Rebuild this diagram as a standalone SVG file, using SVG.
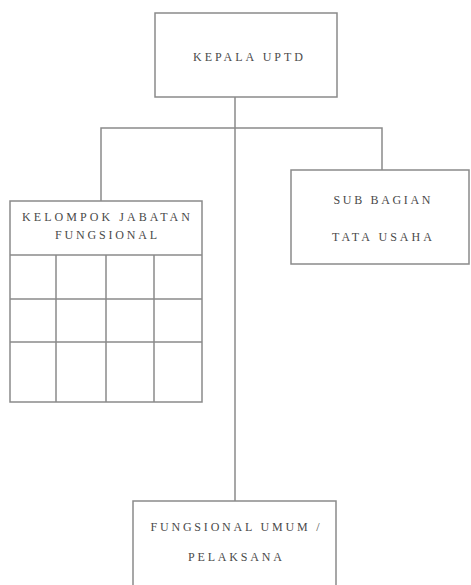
<svg xmlns="http://www.w3.org/2000/svg" width="471" height="585" viewBox="0 0 471 585">
<style>
.box{fill:#fff;stroke:#8a8a8a;stroke-width:1.5}
.ln{fill:none;stroke:#8a8a8a;stroke-width:1.5}
.t{font-family:"Liberation Serif",serif;font-size:12px;fill:#4a4a4a;text-anchor:middle}
</style>
<rect width="471" height="585" fill="#fff"/>
<g id="connectors">
<line class="ln" x1="235" y1="97" x2="235" y2="501"/>
<polyline class="ln" points="101,201 101,128 382,128 382,170"/>
</g>
<g id="kepala">
<rect class="box" x="155" y="13" width="182" height="84"/>
<text class="t" x="248" y="61" textLength="110" lengthAdjust="spacing">KEPALA UPTD</text>
</g>
<g id="kelompok">
<rect class="box" x="10" y="201" width="192" height="201"/>
<line class="ln" x1="10" y1="255" x2="202" y2="255"/>
<line class="ln" x1="10" y1="299" x2="202" y2="299"/>
<line class="ln" x1="10" y1="342" x2="202" y2="342"/>
<line class="ln" x1="56" y1="255" x2="56" y2="402"/>
<line class="ln" x1="106" y1="255" x2="106" y2="402"/>
<line class="ln" x1="154" y1="255" x2="154" y2="402"/>
<text class="t" x="106" y="221" textLength="168" lengthAdjust="spacing">KELOMPOK JABATAN</text>
<text class="t" x="106" y="239" textLength="102" lengthAdjust="spacing">FUNGSIONAL</text>
</g>
<g id="subbagian">
<rect class="box" x="291" y="170" width="178" height="94"/>
<text class="t" x="382" y="204" textLength="97" lengthAdjust="spacing">SUB BAGIAN</text>
<text class="t" x="382" y="241" textLength="100" lengthAdjust="spacing">TATA USAHA</text>
</g>
<g id="fungsional-umum">
<rect class="box" x="133" y="501" width="203" height="100"/>
<text class="t" x="235" y="531" textLength="169" lengthAdjust="spacing">FUNGSIONAL UMUM /</text>
<text class="t" x="235" y="561" textLength="94" lengthAdjust="spacing">PELAKSANA</text>
</g>
</svg>
